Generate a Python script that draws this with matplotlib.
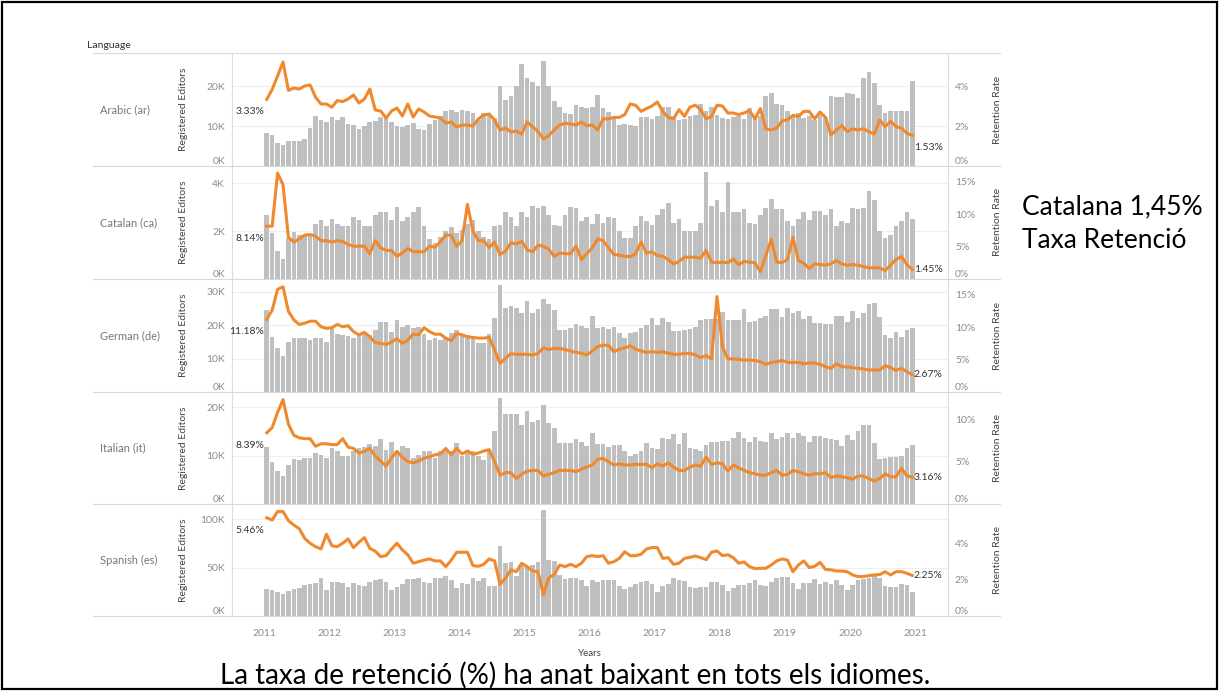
import numpy as np
import matplotlib.pyplot as plt
from matplotlib.lines import Line2D
from matplotlib.patches import Rectangle

plt.rcParams['font.family'] = ['Lato', 'DejaVu Sans']

# meses de 2011-01 a 2020-12
anios = [2011, 2012, 2013, 2014, 2015, 2016, 2017, 2018, 2019, 2020, 2021]
idiomas = ['Arabic (ar)', 'Catalan (ca)', 'German (de)', 'Italian (it)', 'Spanish (es)']

# editores registrados (miles)
arabic_editors = [8.2, 7.8, 5.8, 5.2, 6.2, 6.3, 6.2, 6.8, 9.5, 12.6, 11.6, 11.0,
                  12.3, 11.6, 12.2, 10.4, 10.2, 9.2, 10.0, 11.0, 11.2, 12.3, 12.5, 11.0,
                  10.0, 9.7, 10.3, 10.8, 9.2, 8.9, 10.6, 11.5, 12.5, 13.8, 14.0, 13.5,
                  14.1, 13.7, 13.2, 11.6, 13.2, 13.2, 12.0, 20.0, 16.5, 17.5, 20.0, 25.5,
                  22.0, 21.0, 20.0, 26.3, 20.0, 16.2, 14.7, 13.2, 12.9, 15.2, 14.7, 14.5,
                  14.7, 17.7, 14.5, 13.5, 12.2, 10.3, 10.5, 10.3, 9.9, 12.2, 12.2, 11.8,
                  12.4, 14.7, 14.7, 12.4, 11.6, 11.8, 12.4, 12.8, 15.5, 13.7, 14.7, 12.8,
                  12.0, 11.8, 12.2, 12.4, 11.8, 14.5, 12.2, 12.4, 17.5, 18.3, 15.4, 15.2,
                  13.8, 12.8, 13.2, 12.0, 12.4, 11.6, 12.8, 12.0, 17.5, 17.3, 17.3, 18.3,
                  18.0, 17.0, 22.0, 23.6, 20.8, 15.2, 13.2, 13.7, 13.8, 13.8, 13.7, 21.3]
catalan_editors = [2.66, 1.92, 1.16, 0.84, 1.7, 1.95, 1.85, 1.85, 1.8, 2.3, 2.45, 2.2,
                   2.5, 2.3, 2.2, 2.2, 2.6, 2.45, 2.2, 2.2, 2.65, 2.8, 2.8, 2.45,
                   3.0, 2.4, 2.6, 2.8, 3.0, 2.2, 1.65, 1.5, 1.75, 2.0, 2.15, 1.9,
                   2.05, 2.3, 2.45, 2.0, 1.75, 1.65, 2.2, 2.25, 2.8, 2.6, 2.2, 2.8,
                   2.6, 3.05, 2.95, 3.05, 2.65, 2.25, 2.2, 2.65, 3.0, 2.95, 2.4, 2.6,
                   2.3, 2.7, 2.35, 2.6, 2.55, 2.0, 1.72, 1.72, 2.2, 2.62, 2.4, 2.23,
                   2.65, 2.92, 3.17, 2.34, 2.5, 2.02, 2.02, 1.98, 2.34, 4.48, 3.06, 3.31,
                   2.78, 4.06, 2.78, 2.78, 2.9, 2.34, 2.3, 2.67, 2.95, 3.34, 2.9, 2.9,
                   2.4, 2.2, 2.5, 2.8, 2.45, 2.85, 2.85, 2.65, 2.9, 2.2, 2.4, 2.35,
                   2.95, 2.9, 2.95, 3.65, 3.3, 2.0, 1.7, 1.85, 2.2, 2.4, 2.8, 2.5]
german_editors = [24.6, 16.6, 13.1, 10.9, 14.9, 16.3, 16.3, 16.3, 15.6, 16.1, 16.3, 14.9,
                  18.9, 17.3, 17.1, 16.9, 16.3, 17.3, 17.3, 17.1, 18.6, 20.9, 20.9, 18.1,
                  21.6, 19.6, 20.1, 19.3, 19.6, 17.3, 15.6, 16.1, 15.6, 16.3, 17.6, 18.6,
                  17.3, 17.1, 16.1, 14.6, 14.6, 17.3, 22.3, 32.1, 25.1, 25.9, 25.3, 23.6,
                  27.3, 23.6, 24.9, 27.9, 26.3, 24.6, 18.6, 18.6, 19.1, 20.3, 19.9, 19.1,
                  22.9, 19.3, 19.6, 18.9, 19.6, 17.6, 16.1, 17.6, 18.1, 19.1, 20.1, 22.3,
                  20.1, 22.3, 20.9, 18.3, 18.3, 18.5, 18.9, 19.5, 21.6, 21.9, 21.8, 22.0,
                  23.9, 21.6, 21.6, 21.6, 24.9, 21.0, 21.3, 22.3, 22.9, 24.9, 24.9, 22.6,
                  25.3, 23.6, 24.3, 21.9, 22.9, 20.6, 20.6, 20.3, 20.3, 22.9, 22.9, 21.1,
                  24.3, 22.1, 23.6, 26.3, 26.6, 22.6, 17.1, 16.3, 18.1, 16.6, 18.6, 19.1]
italian_editors = [11.7, 8.7, 6.8, 5.7, 8.1, 9.2, 9.0, 9.5, 9.4, 10.5, 10.2, 9.4,
                   11.6, 10.9, 9.9, 9.9, 11.0, 11.6, 11.7, 12.3, 12.0, 13.5, 11.2, 12.8,
                   11.0, 11.9, 11.6, 9.5, 10.2, 10.9, 10.9, 9.4, 10.9, 10.9, 10.9, 12.6,
                   9.9, 11.2, 10.9, 9.9, 9.0, 11.4, 15.0, 21.9, 18.5, 18.5, 18.6, 16.3,
                   19.1, 17.0, 17.4, 20.5, 16.7, 15.6, 12.6, 12.6, 12.6, 13.5, 12.8, 11.9,
                   14.7, 12.4, 12.3, 11.7, 12.1, 12.1, 11.0, 9.9, 10.4, 10.9, 12.6, 11.6,
                   11.4, 13.6, 13.5, 14.5, 12.3, 14.7, 11.6, 11.3, 11.0, 12.1, 12.8, 12.8,
                   13.0, 13.0, 13.6, 14.9, 13.6, 12.8, 13.8, 13.0, 12.8, 14.7, 13.5, 13.8,
                   14.7, 13.6, 14.7, 14.0, 12.8, 14.0, 14.0, 13.6, 13.4, 13.1, 11.9, 14.2,
                   13.1, 15.0, 16.3, 16.3, 12.6, 9.2, 9.4, 9.7, 9.7, 9.9, 11.6, 12.1]
spanish_editors = [27.8, 26.8, 25.1, 22.3, 25.8, 27.8, 28.5, 32.0, 32.6, 33.7, 39.5, 26.8,
                   34.7, 34.7, 33.7, 30.2, 33.7, 32.0, 31.3, 35.4, 37.1, 38.1, 35.4, 26.8,
                   30.2, 32.6, 38.1, 38.1, 39.5, 34.7, 33.7, 38.8, 39.5, 41.6, 37.1, 28.5,
                   33.7, 32.6, 38.8, 36.1, 39.5, 31.3, 31.3, 72.5, 54.3, 55.3, 41.6, 53.3,
                   50.9, 52.6, 55.3, 109.0, 57.7, 56.7, 42.3, 38.1, 39.5, 39.5, 37.1, 31.3,
                   37.1, 35.4, 37.1, 37.1, 37.1, 31.3, 27.8, 30.2, 32.6, 35.4, 36.1, 32.6,
                   25.1, 31.3, 32.6, 38.8, 37.1, 36.1, 30.2, 29.2, 30.2, 30.2, 34.7, 34.7,
                   32.0, 25.8, 29.2, 32.0, 32.0, 33.7, 37.1, 32.0, 31.3, 34.7, 38.8, 40.5,
                   40.5, 33.7, 27.8, 33.7, 33.7, 38.1, 32.6, 35.4, 32.6, 37.1, 31.7, 26.8,
                   31.7, 37.1, 38.1, 39.5, 41.6, 39.5, 31.3, 30.2, 30.2, 32.6, 32.0, 25.1]

# tasa de retención (%)
arabic_rate = [3.33, 3.83, 4.5, 5.2, 3.78, 3.9, 3.85, 4.0, 4.05, 3.44, 3.1, 3.1,
               2.94, 3.27, 3.22, 3.35, 3.55, 3.15, 3.35, 3.85, 2.8, 2.75, 2.4, 2.75,
               2.9, 2.5, 3.1, 2.45, 2.85, 2.7, 2.5, 2.45, 2.4, 2.15, 2.2, 1.95,
               2.05, 2.05, 2.0, 2.35, 2.55, 2.6, 2.3, 1.8, 1.9, 1.7, 1.75, 1.6,
               2.2, 1.97, 1.72, 1.35, 1.52, 1.8, 2.05, 2.14, 2.1, 2.05, 2.2, 2.02,
               2.05, 1.8, 2.36, 2.36, 2.43, 2.43, 2.57, 3.1, 3.04, 2.73, 2.87, 3.0,
               3.2, 2.73, 2.43, 2.36, 2.82, 2.48, 2.94, 3.04, 2.82, 2.36, 2.48, 3.04,
               3.0, 2.65, 2.65, 2.57, 2.65, 2.77, 2.36, 2.87, 1.86, 1.8, 1.89, 2.26,
               2.31, 2.53, 2.48, 2.73, 2.73, 2.36, 2.7, 2.43, 1.55, 1.8, 2.02, 1.72,
               1.86, 1.8, 1.86, 1.72, 1.6, 2.31, 1.97, 2.23, 1.97, 1.89, 1.64, 1.53]
catalan_rate = [8.14, 8.13, 16.3, 14.5, 6.4, 5.7, 6.2, 6.75, 6.85, 6.6, 5.9, 5.9,
                5.7, 5.9, 5.8, 5.3, 5.05, 5.05, 5.05, 3.9, 5.9, 4.8, 4.4, 4.4,
                3.5, 4.0, 4.7, 4.2, 4.2, 4.2, 5.05, 4.9, 5.7, 6.75, 6.75, 5.05,
                5.9, 11.5, 7.36, 5.9, 5.9, 4.85, 5.7, 3.77, 4.3, 5.56, 5.4, 5.8,
                4.5, 4.2, 5.2, 5.05, 4.55, 3.5, 4.0, 3.9, 3.9, 5.05, 3.0, 3.9,
                4.8, 6.2, 5.9, 4.8, 3.77, 3.67, 3.5, 3.46, 3.9, 5.7, 4.0, 4.2,
                3.6, 3.5, 3.0, 2.33, 2.7, 3.36, 3.36, 3.36, 3.2, 4.4, 2.6, 2.5,
                2.6, 2.5, 3.1, 2.2, 2.7, 2.6, 2.5, 1.15, 3.6, 6.1, 2.6, 2.54,
                3.0, 6.4, 2.85, 2.45, 1.6, 2.33, 2.23, 2.13, 2.33, 2.85, 2.33, 2.13,
                2.23, 2.13, 1.92, 1.72, 1.72, 1.72, 1.3, 2.13, 3.0, 3.46, 2.23, 1.45]
german_rate = [11.18, 12.6, 15.8, 16.2, 12.4, 11.1, 10.4, 10.6, 10.9, 10.9, 10.05, 9.8,
               9.9, 10.4, 10.05, 10.2, 9.3, 8.8, 9.2, 8.5, 7.6, 7.5, 7.3, 7.7,
               8.2, 7.5, 8.0, 8.9, 8.8, 9.9, 9.3, 8.9, 8.9, 8.3, 7.9, 9.0,
               8.8, 8.5, 8.4, 8.3, 8.3, 8.4, 6.5, 4.4, 5.2, 5.9, 5.8, 5.8,
               5.8, 5.7, 5.95, 6.8, 6.55, 6.7, 6.7, 6.55, 6.3, 6.1, 6.0, 5.7,
               6.3, 7.0, 7.2, 7.2, 6.2, 6.6, 6.8, 7.1, 6.6, 6.3, 6.1, 6.2,
               6.1, 6.2, 5.95, 5.8, 5.8, 5.95, 5.95, 5.7, 5.3, 5.6, 5.1, 14.7,
               7.0, 5.1, 5.1, 5.0, 4.9, 4.9, 4.85, 4.65, 4.25, 4.55, 4.65, 4.85,
               4.55, 4.55, 4.55, 4.35, 4.45, 4.45, 4.25, 3.9, 3.64, 4.35, 3.9, 3.85,
               3.75, 3.64, 3.54, 3.4, 3.4, 3.4, 4.05, 3.75, 3.33, 3.64, 3.13, 2.67]
italian_rate = [8.39, 9.0, 10.8, 12.3, 9.4, 8.1, 7.8, 7.7, 7.7, 6.8, 7.1, 7.1,
                7.0, 7.0, 7.7, 6.7, 6.55, 6.0, 6.2, 6.55, 5.65, 5.06, 4.47, 5.45,
                6.2, 5.5, 5.0, 4.86, 5.06, 5.4, 5.55, 5.8, 5.9, 6.55, 5.8, 6.55,
                5.9, 6.25, 5.85, 6.0, 6.25, 6.4, 5.0, 3.4, 3.7, 3.7, 3.0, 3.5,
                3.88, 3.96, 3.96, 3.3, 3.5, 3.7, 3.96, 3.96, 3.96, 3.8, 4.1, 4.35,
                4.6, 5.26, 5.37, 4.98, 4.6, 4.74, 4.6, 4.6, 4.67, 4.67, 4.67, 4.27,
                4.74, 4.47, 4.86, 4.35, 3.96, 3.96, 4.35, 4.6, 4.47, 5.53, 4.67, 4.86,
                4.74, 3.88, 4.6, 4.27, 3.96, 3.7, 3.56, 3.4, 3.4, 3.7, 3.96, 3.4,
                3.48, 3.96, 3.8, 3.56, 3.4, 3.56, 3.56, 3.7, 3.1, 3.3, 3.2, 3.1,
                2.93, 3.3, 3.3, 3.0, 2.7, 3.0, 3.56, 3.2, 3.2, 4.2, 3.3, 3.16]
spanish_rate = [5.46, 5.33, 5.8, 5.8, 5.3, 5.05, 4.85, 4.31, 4.04, 3.85, 3.72, 4.54,
                3.9, 3.85, 4.04, 4.28, 3.8, 4.1, 4.35, 3.76, 3.6, 3.3, 3.35, 3.72,
                4.04, 3.67, 3.4, 2.93, 3.02, 3.1, 3.17, 3.06, 3.06, 2.74, 3.1, 3.54,
                3.54, 3.54, 2.8, 2.76, 2.87, 3.17, 3.06, 1.76, 2.1, 2.56, 2.46, 2.93,
                2.74, 2.5, 2.46, 1.17, 2.13, 2.3, 2.83, 2.74, 2.87, 2.74, 2.93, 3.3,
                3.35, 3.3, 3.35, 2.93, 3.02, 3.2, 3.57, 3.35, 3.35, 3.43, 3.72, 3.8,
                3.8, 3.2, 3.24, 2.87, 2.93, 3.2, 3.26, 3.33, 3.24, 3.13, 3.54, 3.61,
                3.35, 3.4, 3.24, 2.93, 3.0, 2.74, 2.63, 2.65, 2.65, 2.83, 3.06, 3.17,
                3.1, 2.46, 2.83, 3.06, 2.69, 2.76, 2.98, 2.59, 2.56, 2.5, 2.5, 2.46,
                2.28, 2.19, 2.19, 2.24, 2.28, 2.3, 2.46, 2.28, 2.46, 2.46, 2.37, 2.25]

editores = [arabic_editors, catalan_editors, german_editors, italian_editors, spanish_editors]
tasas = [arabic_rate, catalan_rate, german_rate, italian_rate, spanish_rate]

# ejes de cada fila
lim_izq = [28.25, 4.71, 33.9, 23.1, 115.5]
ticks_izq = [[0, 10, 20], [0, 2, 4], [0, 10, 20, 30], [0, 10, 20], [0, 50, 100]]
lim_der = [5.65, 17.4, 17.4, 13.2, 6.22]
ticks_der = [[0, 2, 4], [0, 5, 10, 15], [0, 5, 10, 15], [0, 5, 10], [0, 2, 4]]
filas = [53, 166, 279, 392, 504, 616]

W, H = 1219, 691
gris_barra = '#bfbfbf'
naranja = '#F0892D'

fig = plt.figure(figsize=(W / 100, H / 100), dpi=100)

meses = 2011 + np.arange(120) / 12 + 1 / 24
x0, x1 = 232, 948

for i in range(5):
    top, bot = filas[i], filas[i + 1]
    ax = fig.add_axes([x0 / W, 1 - bot / H, (x1 - x0) / W, (bot - top) / H])
    ax.bar(meses, editores[i], width=1 / 12 * 0.86, color=gris_barra, zorder=2)
    ax.set_xlim(2010.508, 2021.507)
    ax.set_ylim(0, lim_izq[i])
    ax.set_yticks(ticks_izq[i])
    ax.set_yticklabels([f'{t}K' for t in ticks_izq[i]])
    ax.yaxis.grid(True, color='#eeeeee', lw=0.8, zorder=0)
    ax.set_axisbelow(True)
    ax.tick_params(axis='y', length=0, labelsize=7.5, labelcolor='#8c8c8c', pad=5)
    ax.tick_params(axis='x', length=0)
    for s in ['top', 'bottom']:
        ax.spines[s].set_visible(False)
    ax.spines['left'].set_color('#dddddd')
    ax.spines['right'].set_color('#dddddd')
    ax.get_yticklabels()[0].set_va('bottom')

    ax2 = ax.twinx()
    ax2.plot(meses, tasas[i], color=naranja, lw=2.2, zorder=3)
    ax2.set_ylim(0, lim_der[i])
    ax2.set_yticks(ticks_der[i])
    ax2.set_yticklabels([f'{t}%' for t in ticks_der[i]])
    ax2.tick_params(axis='y', length=0, labelsize=7.5, labelcolor='#8c8c8c', pad=5)
    for s in ['top', 'bottom', 'left', 'right']:
        ax2.spines[s].set_visible(False)
    ax2.get_yticklabels()[0].set_va('bottom')

    # etiquetas de inicio y fin
    ax2.annotate(f'{tasas[i][0]:.2f}%', xy=(meses[0], tasas[i][0]), xytext=(-2, -9),
                 textcoords='offset points', ha='right', va='center', fontsize=7.5, color='#333333')
    dy = -9 if i == 0 else 0
    ax2.annotate(f'{tasas[i][-1]:.2f}%', xy=(meses[-1], tasas[i][-1]), xytext=(1, dy),
                 textcoords='offset points', ha='left', va='center', fontsize=7.5, color='#333333')

    if i < 4:
        ax.set_xticks([])
    else:
        ax.set_xticks(anios)
        ax.tick_params(axis='x', labelsize=7.5, labelcolor='#8c8c8c', pad=9)
        ax.set_xlabel('Years', fontsize=7, color='#444444', labelpad=8)

    yc = 1 - (top + bot) / 2 / H
    fig.text(100 / W, yc, idiomas[i], ha='left', va='center', fontsize=8, color='#777777')
    fig.text(184 / W, yc, 'Registered Editors', rotation=90, ha='center', va='center',
             fontsize=7.5, color='#444444')
    fig.text(997 / W, yc, 'Retention Rate', rotation=90, ha='center', va='center',
             fontsize=7.5, color='#444444')

# líneas de separación
for y in filas:
    fig.add_artist(Line2D([93 / W, 1000 / W], [1 - y / H, 1 - y / H], color='#d9d9d9', lw=0.8))

fig.text(87 / W, 1 - 46 / H, 'Language', ha='left', va='center', fontsize=7.5, color='#333333')

fig.text(1022 / W, 1 - 207 / H, 'Catalana 1,45%', ha='left', va='center', fontsize=19, color='black')
fig.text(1022 / W, 1 - 241 / H, 'Taxa Retenció', ha='left', va='center', fontsize=19, color='black')

fig.text(575 / W, 1 - 675 / H, 'La taxa de retenció (%) ha anat baixant en tots els idiomes.',
         ha='center', va='center', fontsize=20, color='black')

fig.add_artist(Rectangle((2 / W, 2 / H), 1 - 4 / W, 1 - 4 / H, transform=fig.transFigure,
                         fill=False, edgecolor='black', lw=1.6))

fig.savefig('out.png', dpi=100)
plt.close()
